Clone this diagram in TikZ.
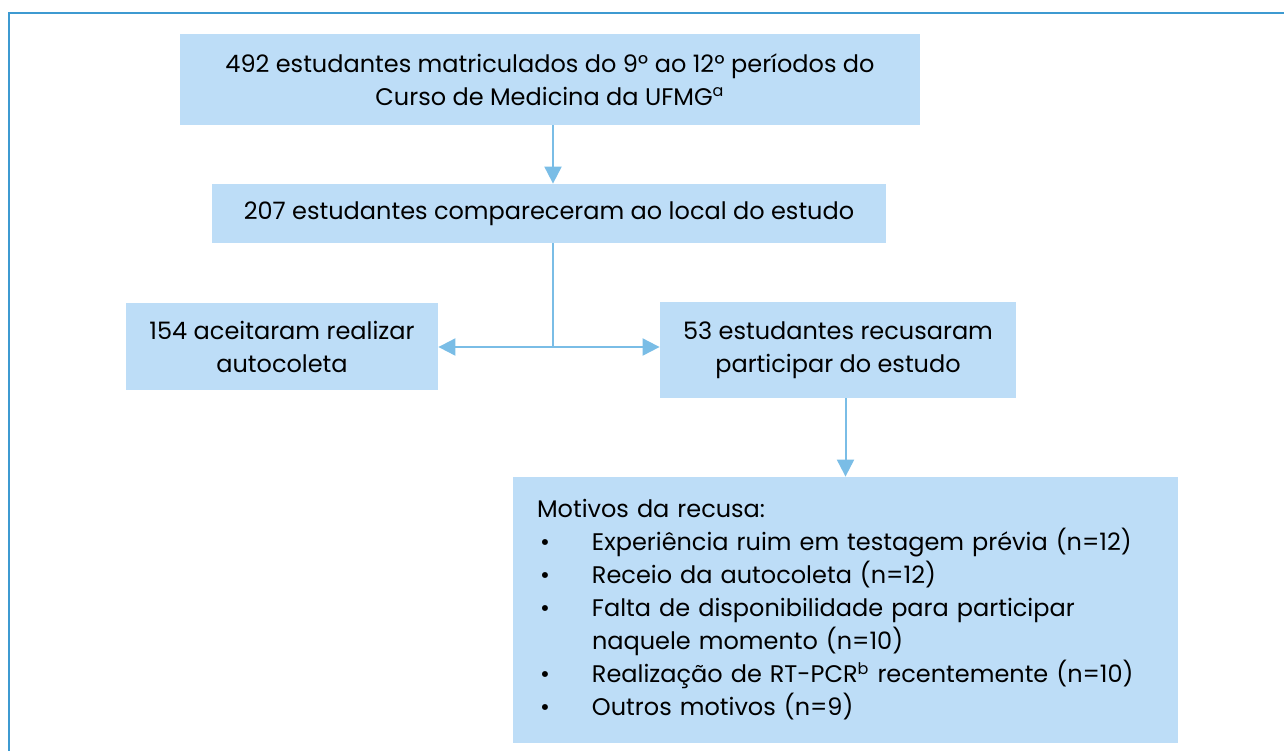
\documentclass[tikz,border=0pt]{standalone}
\usepackage{fontspec}
\setmainfont{Poppins}
\usetikzlibrary{positioning,arrows.meta}
\definecolor{boxblue}{HTML}{BDDDF7}
\definecolor{arrowblue}{HTML}{7ABDE6}
\definecolor{frameblue}{HTML}{3D9AD1}
\newcommand{\reasonitem}{\makebox[27.5pt][l]{\hspace{1.5pt}\textbullet}}

\begin{document}
\begin{tikzpicture}[x=0.5pt,y=-0.5pt,
    flowbox/.style={fill=boxblue, inner sep=0pt, align=center, font=\fontsize{12}{16.5}\selectfont},
    flowline/.style={draw=arrowblue, line width=1pt},
    flowarrow/.style={flowline, -{Triangle[length=8.5pt,width=8.5pt]}}]
        \useasboundingbox (0,0) rectangle (1284,751);
        %Frame
        \draw[frameblue, line width=1pt] (1284,13) -| (9,751);
        %Nodes
        \node[flowbox, minimum width=370pt, minimum height=45.5pt] (total)    at (550,79.5)
            {492 estudantes matriculados do 9º ao 12º períodos do\\Curso de Medicina da UFMG\textsuperscript{a}};
        \node[flowbox, minimum width=337pt, minimum height=29.5pt] (present)  at (549,213.5)
            {207 estudantes compareceram ao local do estudo};
        \node[flowbox, minimum width=156pt, minimum height=43.5pt] (accepted) at (282,346.5)
            {154 aceitaram realizar\\autocoleta};
        \node[flowbox, minimum width=178pt, minimum height=48pt]   (refused)  at (838,350)
            {53 estudantes recusaram\\participar do estudo};
        \node[flowbox, minimum width=332.5pt, minimum height=133pt, text width=308.5pt, align=left] (reasons) at (845.5,610)
            {Motivos da recusa:\\
             \reasonitem Experiência ruim em testagem prévia (n=12)\\
             \reasonitem Receio da autocoleta (n=12)\\
             \reasonitem Falta de disponibilidade para participar\\
             \hspace*{27.5pt}naquele momento (n=10)\\
             \reasonitem Realização de RT-PCR\textsuperscript{b} recentemente (n=10)\\
             \reasonitem Outros motivos (n=9)};
        \coordinate (split) at (553,347);
        %Lines
        \draw[flowarrow] (split |- total.south) -- (split |- present.north);
        \draw[flowline] (split |- present.south) -- (split);
        \draw[flowarrow] (split) -- (accepted.east |- split);
        \draw[flowarrow] (split) -- (refused.west |- split);
        \draw[flowarrow] (reasons.north |- refused.south) -- (reasons.north);
    \end{tikzpicture}
\end{document}
